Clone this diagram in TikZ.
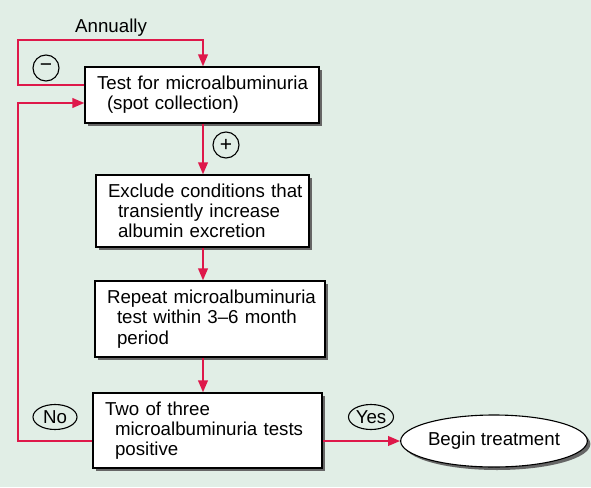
\documentclass[tikz,border=0pt]{standalone}
\usepackage{fontspec}
\setmainfont{Liberation Sans}
\usetikzlibrary{arrows.meta,shapes.geometric,shadows}
\definecolor{bgc}{RGB}{225,238,230}
\definecolor{flowred}{RGB}{222,24,74}
\tikzset{
  stepbox/.style={draw=black, line width=1.2pt, fill=white, rectangle, align=left,
    inner xsep=12pt, inner ysep=0pt, font=\fontsize{18.7pt}{20.3pt}\selectfont,
    drop shadow={shadow xshift=3pt, shadow yshift=-3pt, fill=black!60, opacity=1}},
  tag/.style={draw=black, line width=1.1pt, ellipse, inner sep=0pt,
    font=\fontsize{18.7pt}{20.3pt}\selectfont},
  sign/.style={draw=black, line width=1.1pt, circle, inner sep=0pt, minimum size=26pt,
    font=\fontsize{21pt}{22pt}\selectfont},
  flow/.style={draw=flowred, line width=2.2pt, -{Triangle[length=12pt,width=9.5pt]}}
}
\begin{document}
\begin{tikzpicture}[x=1pt,y=-1pt]
\fill[bgc] (0,0) rectangle (591,487);
\useasboundingbox (0,0) rectangle (591,487);

\coordinate (spine) at (203,0);
\coordinate (top) at (18,40);
\coordinate (bl) at (18,103);

\node[stepbox, minimum width=234pt, minimum height=56pt, text width=210pt] (b1) at (202,95)
  {\mbox{Test for microalbuminuria}\\\mbox{\hspace*{10pt}(spot collection)}};
\node[stepbox, minimum width=213pt, minimum height=72pt, text width=189pt] (b2) at (202.5,211)
  {\mbox{Exclude conditions that}\\\mbox{\hspace*{10pt}transiently increase}\\\mbox{\hspace*{10pt}albumin excretion}};
\node[stepbox, minimum width=230pt, minimum height=76pt, text width=206pt] (b3) at (210,319)
  {\mbox{Repeat microalbuminuria}\\\mbox{\hspace*{10pt}test within 3–6 month}\\\mbox{\hspace*{10pt}period}};
\node[stepbox, minimum width=229pt, minimum height=75pt, text width=205pt] (b4) at (207.5,430.5)
  {\mbox{Two of three}\\\mbox{\hspace*{10pt}microalbuminuria tests}\\\mbox{\hspace*{10pt}positive}};

\node[tag, fill=white, minimum width=152pt, minimum height=52pt,
  drop shadow={shadow xshift=3pt, shadow yshift=-3pt, fill=black!60, opacity=1}] (begin) at (494,441) {Begin treatment};
\node[tag, minimum width=44pt, minimum height=25pt] (no) at (55,417) {No};
\node[tag, minimum width=45pt, minimum height=25pt] (yes) at (371,417) {Yes};

\node[sign] (minus) at (46,68) {−};
\node[sign] (plus) at (226,145) {+};

\node[anchor=base west, inner sep=0pt, font=\fontsize{18.7pt}{20.3pt}\selectfont] (annual) at (75,33) {Annually};

\draw[flow] ([yshift=10pt]b1.west) -| (top) -| (b1.north -| spine);
\draw[flow] ([yshift=-10.5pt]b4.west) -| (bl) -- ([yshift=-8pt]b1.west);
\draw[flow] (b1.south -| spine) -- (b2.north -| spine);
\draw[flow] (b2.south -| spine) -- (b3.north -| spine);
\draw[flow] (b3.south -| spine) -- (b4.north -| spine);
\draw[flow] ([yshift=-10.5pt]b4.east) -- (begin.west);
\end{tikzpicture}
\end{document}
